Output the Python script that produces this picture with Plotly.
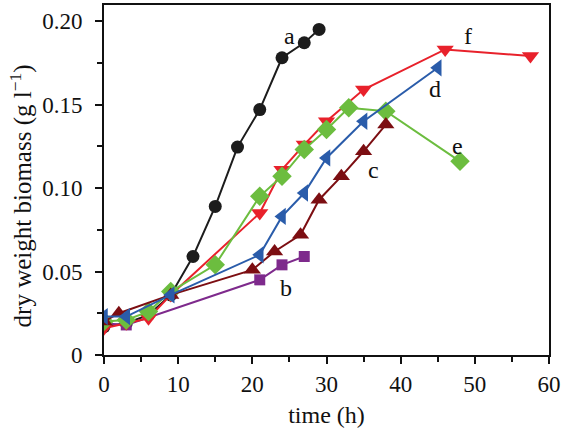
import plotly.graph_objects as go

# ---- data (time in h, dry weight biomass in g/l) ----
a_t = [0, 3, 6, 9, 12, 15, 18, 21, 24, 27, 29]
a_y = [0.017, 0.019, 0.024, 0.036, 0.059, 0.089, 0.1245, 0.147, 0.178, 0.187, 0.195]

b_t = [0, 3, 21, 24, 27]
b_y = [0.019, 0.018, 0.045, 0.054, 0.059]

c_t = [0, 2, 9, 20, 23, 26.5, 29, 32, 35, 38]
c_y = [0.020, 0.025, 0.036, 0.051, 0.062, 0.072, 0.093, 0.107, 0.122, 0.138]

d_t = [0, 3, 9, 21, 24, 27, 30, 35, 45]
d_y = [0.023, 0.023, 0.036, 0.060, 0.083, 0.097, 0.118, 0.140, 0.172]

e_t = [0, 3, 6, 9, 15, 21, 24, 27, 30, 33, 38, 48]
e_y = [0.020, 0.021, 0.026, 0.038, 0.054, 0.095, 0.107, 0.123, 0.135, 0.148, 0.146, 0.116]

f_t = [0, 3, 6, 9, 21, 24, 27, 30, 35, 46, 57.5]
f_y = [0.016, 0.019, 0.022, 0.036, 0.085, 0.111, 0.126, 0.140, 0.159, 0.183, 0.179]

series_names = ["a", "b", "c", "d", "e", "f"]
y_tickvals = [0, 0.05, 0.10, 0.15, 0.20]
y_ticktext = ["0", "0.05", "0.10", "0.15", "0.20"]
x_tickvals = [0, 10, 20, 30, 40, 50, 60]

label_x = [25.0, 24.6, 36.3, 44.6, 47.7, 49.1]
label_y = [0.191, 0.040, 0.111, 0.159, 0.125, 0.191]

FONT = "Liberation Serif"
INK = "#111111"

styles = {
    "a": dict(color="#1c1c1c", symbol="circle", size=13),
    "b": dict(color="#7e2a8c", symbol="square", size=11),
    "c": dict(color="#7c0e12", symbol="triangle-up", size=15),
    "d": dict(color="#2a5caa", symbol="triangle-left", size=15),
    "e": dict(color="#6cbd3f", symbol="diamond", size=15),
    "f": dict(color="#e8212b", symbol="triangle-down", size=15),
}
data = {"a": (a_t, a_y), "b": (b_t, b_y), "c": (c_t, c_y),
        "d": (d_t, d_y), "e": (e_t, e_y), "f": (f_t, f_y)}

fig = go.Figure()
for name in ["a", "b", "f", "e", "c", "d"]:
    t, y = data[name]
    st = styles[name]
    fig.add_trace(go.Scatter(
        x=t, y=y, mode="lines+markers", name=name,
        line=dict(color=st["color"], width=2),
        marker=dict(color=st["color"], symbol=st["symbol"], size=st["size"],
                    line=dict(width=0)),
        showlegend=False,
    ))

for name, lx, ly in zip(series_names, label_x, label_y):
    fig.add_annotation(x=lx, y=ly, text=name, showarrow=False,
                       font=dict(family=FONT, size=24, color=INK))

# y-axis title (placed as rotated text, slightly below the axis centre as in the reference)
fig.add_annotation(xref="paper", yref="paper", x=-0.185, y=0.455,
                   text="dry weight biomass (g l<sup>−1</sup>)", textangle=-90,
                   showarrow=False, xanchor="center", yanchor="middle",
                   font=dict(family=FONT, size=25, color=INK))

axis_common = dict(
    showline=True, linecolor=INK, linewidth=2, mirror=True,
    ticks="outside", tickcolor=INK, tickwidth=2, ticklen=7,
    showgrid=False, zeroline=False, automargin=False,
    tickfont=dict(family=FONT, size=23, color=INK),
)

fig.update_xaxes(range=[0, 60], tickvals=x_tickvals,
                 minor=dict(ticks="outside", dtick=5, ticklen=5, tickwidth=2, tickcolor=INK),
                 title=dict(text="time (h)", font=dict(family=FONT, size=24, color=INK), standoff=14),
                 **axis_common)
fig.update_yaxes(range=[0, 0.2096], tickvals=y_tickvals, ticktext=y_ticktext,
                 minor=dict(ticks="outside", dtick=0.025, ticklen=5, tickwidth=2, tickcolor=INK),
                 ticklabelstandoff=8,
                 **axis_common)

fig.update_layout(
    width=563, height=428,
    margin=dict(l=104, r=14, t=5, b=73),
    plot_bgcolor="white", paper_bgcolor="white",
)

fig.write_html("out.html", config={"displayModeBar": False},
               post_script="document.body.style.margin='0';")
